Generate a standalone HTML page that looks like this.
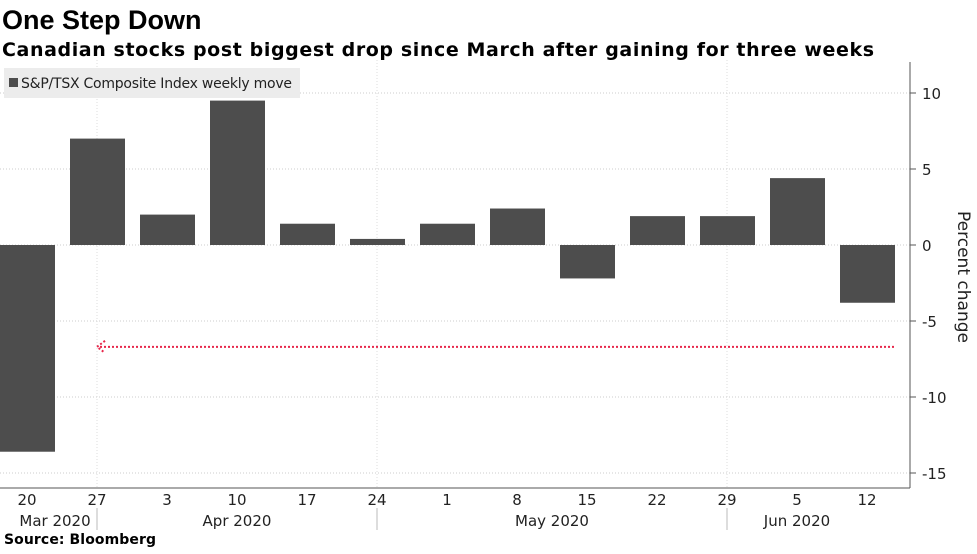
<!DOCTYPE html>
<html><head><meta charset="utf-8"><style>
body{margin:0;background:#fff;font-family:"Liberation Sans",sans-serif;}
svg text{font-family:"DejaVu Sans","Liberation Sans",sans-serif;}
</style></head><body>
<svg width="977" height="549" xmlns="http://www.w3.org/2000/svg" id="chart">
<text x="2" y="29" font-size="27" font-weight="bold" fill="#000" style="font-family:'Liberation Sans',sans-serif">One Step Down</text>
<text x="2" y="56" font-size="19" font-weight="bold" fill="#000" style="font-family:'DejaVu Sans',sans-serif" textLength="872">Canadian stocks post biggest drop since March after gaining for three weeks</text>
<g id="grid"></g>
<g id="bars"></g>
<g id="axis"></g>
<rect x="4" y="68" width="296" height="30" fill="#ececec"/>
<rect x="9" y="78" width="9" height="9" fill="#4d4d4d"/>
<text x="21" y="88" font-size="14" fill="#222" textLength="271">S&amp;P/TSX Composite Index weekly move</text>
<text transform="translate(958,277) rotate(90)" font-size="17" fill="#222" text-anchor="middle">Percent change</text>
<text x="4" y="544" font-size="14" font-weight="bold" fill="#000" textLength="152">Source: Bloomberg</text>
</svg>
<script>
const categories=["20","27","3","10","17","24","1","8","15","22","29","5","12"];
const values=[-13.6,7.0,2.0,9.5,1.4,0.4,1.4,2.4,-2.2,1.9,1.9,4.4,-3.8];
const yTicks=[10,5,0,-5,-10,-15];
const months=["Mar 2020","Apr 2020","May 2020","Jun 2020"];
const monthCenters=[0.4,3,7.5,11];
const monthSeps=[1,5,10];
const markerValue=-6.7;
const markerStart=1, markerEnd=12.4;
const NS="http://www.w3.org/2000/svg";
const y=v=>245-v*15.2;
const x=i=>27+i*70;
function mk(t,a,p){const e=document.createElementNS(NS,t);for(const k in a)e.setAttribute(k,a[k]);p.appendChild(e);return e;}
const grid=document.getElementById('grid'),bars=document.getElementById('bars'),axis=document.getElementById('axis');
yTicks.forEach(v=>{
 const l=mk('line',{x1:0,x2:910,y1:y(v),y2:y(v),stroke:'#ccc','stroke-dasharray':'1,2'},grid);
 
 
 mk('line',{x1:910,x2:916,y1:y(v),y2:y(v),stroke:'#555'},axis);
 const t=mk('text',{x:922,y:y(v)+6,'font-size':15,fill:'#222'},axis);t.textContent=v;
 
 
});
monthSeps.forEach(i=>{
 const l=mk('line',{x1:x(i),x2:x(i),y1:60,y2:488,stroke:'#ddd','stroke-dasharray':'1,2'},grid);
 
 
 mk('line',{x1:x(i),x2:x(i),y1:508,y2:530,stroke:'#bbb'},axis);
});
values.forEach((v,i)=>{
 const r=mk('rect',{x:x(i)-27,width:55,y:Math.min(y(v),y(0)),height:Math.abs(y(v)-y(0)),fill:'#4d4d4d'},bars);
 
 
});
categories.forEach((c,i)=>{
 const t=mk('text',{x:x(i),y:505,'font-size':15,fill:'#222','text-anchor':'middle'},axis);t.textContent=c;
 
 
});
months.forEach((m,i)=>{
 const t=mk('text',{x:x(monthCenters[i]),y:526,'font-size':15,fill:'#222','text-anchor':'middle'},axis);t.textContent=m;
 
 
});
mk('line',{x1:910,x2:910,y1:62,y2:488,stroke:'#555'},axis);
mk('line',{x1:0,x2:910,y1:488,y2:488,stroke:'#555'},axis);
const ml=mk('line',{x1:x(markerStart)+3,x2:x(markerEnd),y1:y(markerValue),y2:y(markerValue),stroke:'#e8274b','stroke-width':2,'stroke-dasharray':'2,2'},axis);


const ar=mk('polyline',{points:`${x(markerStart)+8},${y(markerValue)-6} ${x(markerStart)},${y(markerValue)} ${x(markerStart)+8},${y(markerValue)+6}`,fill:'none',stroke:'#e8274b','stroke-width':2,'stroke-dasharray':'2,2'},axis);


</script>
</body></html>
